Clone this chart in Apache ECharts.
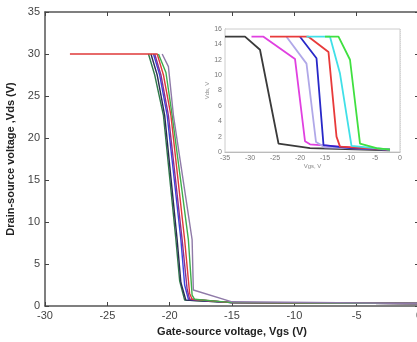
<!DOCTYPE html>
<html><head><meta charset="utf-8">
<script src="https://cdn.jsdelivr.net/npm/echarts@6/dist/echarts.min.js"></script>
<style>html,body{margin:0;padding:0;background:#fff}#c{width:417px;height:342px}</style>
</head><body><div id="c"></div>
<script>
// Main chart: Vgs (V) vs Vds (V)
const mainXTicks = [-30,-25,-20,-15,-10,-5,0];
const mainYTicks = [0,5,10,15,20,25,30,35];
const mainNames = ['s1','s2','s3','s4','s5','s6','s7'];
const mainColors = ['#2f7a4a','#2b2b55','#3a46e0','#8a2f8f','#e03a3a','#3fae4a','#8f7aa8'];
const s1 = [[-21.7,30],[-21.2,27.5],[-20.5,22.7],[-19.5,7.9],[-19.2,3.0],[-18.8,0.7],[-15,0.4],[0,0.3]];
const s2 = [[-21.5,30],[-21.0,27.5],[-20.4,22.7],[-19.4,7.9],[-19.1,2.8],[-18.7,0.7],[-15,0.4],[0,0.3]];
const s3 = [[-21.3,30],[-20.8,27.5],[-20.2,22.7],[-19.1,7.9],[-18.8,2.5],[-18.5,0.8],[-15,0.4],[0,0.3]];
const s4 = [[-21.2,30],[-20.7,27.5],[-20.1,22.7],[-19.0,7.9],[-18.6,2.0],[-18.4,0.8],[-15,0.4],[0,0.3]];
const s5 = [[-28,30],[-21.0,30],[-20.5,27.5],[-19.9,22.7],[-18.8,7.9],[-18.4,1.5],[-18.2,0.8],[-15,0.4],[0,0.3]];
const s6 = [[-20.9,30],[-20.3,27.8],[-19.8,22.7],[-18.5,7.9],[-18.2,1.3],[-18.0,0.8],[-15,0.4],[0,0.3]];
const s7 = [[-20.6,30],[-20.1,28.5],[-19.7,22.7],[-18.2,7.9],[-18.1,1.9],[-15,0.5],[0,0.3]];
const mainData = [s1,s2,s3,s4,s5,s6,s7];

// Inset chart
const insetXTicks = [-35,-30,-25,-20,-15,-10,-5,0];
const insetYTicks = [0,2,4,6,8,10,12,14,16];
const insetColors = ['#3a3a3a','#e040e0','#b0a8e8','#2828c8','#e83a3a','#40e0e8','#40e040'];
const i1 = [[-35,15],[-31,15],[-28,13.3],[-24.3,1.1],[-18,0.5],[-2,0.2]];
const i2 = [[-29.7,15],[-27.3,15],[-21,12.1],[-19,1.4],[-18,1.0],[-10,0.6],[-2,0.3]];
const i3 = [[-22.7,15],[-18.7,11.5],[-16.8,1.3],[-15,0.6],[-2,0.3]];
const i4 = [[-20,15],[-16.7,12.2],[-15.3,0.9],[-10,0.5],[-2,0.3]];
const i5 = [[-26,15],[-18.3,15],[-14.3,13],[-12.7,2],[-12,0.7],[-2,0.3]];
const i6 = [[-18.7,15],[-14,15],[-12,10.2],[-10,2],[-9.7,0.8],[-2,0.3]];
const i7 = [[-15,15],[-12.3,15],[-10,12],[-8,1.1],[-4.7,0.5],[-2,0.3]];
const insetData = [i1,i2,i3,i4,i5,i6,i7];

const chart = echarts.init(document.getElementById('c'));
const lblMain = {color:'#444', fontSize:11, fontFamily:'Liberation Sans, Arial'};
const lblInset = {color:'#777', fontSize:7, fontFamily:'Liberation Sans, Arial'};
const series = [];
mainData.forEach((d,k)=>series.push({type:'line', xAxisIndex:0, yAxisIndex:0, data:d, symbol:'none',
  lineStyle:{width:1.4, color:mainColors[k]}, z:3, animation:false}));
insetData.forEach((d,k)=>series.push({type:'line', xAxisIndex:2, yAxisIndex:2, data:d, symbol:'none',
  lineStyle:{width:1.8, color:insetColors[k]}, z:5, animation:false}));

chart.setOption({
  animation:false,
  grid:[
    {left:45, top:12, width:374, height:294, show:false, containLabel:false, outerBoundsMode:'none'},
    {left:225, top:29, width:175, height:123, show:true, backgroundColor:'#fff', borderColor:'#ccc', borderWidth:1, z:4, containLabel:false, outerBoundsMode:'none'}
  ],
  xAxis:[
    {type:'value', gridIndex:0, min:-30, max:0, interval:5, position:'bottom',
     name:'Gate-source voltage, Vgs (V)', nameLocation:'middle', nameGap:20,
     nameTextStyle:{fontWeight:'bold', fontSize:11, color:'#222', fontFamily:'Liberation Sans, Arial'},
     axisLine:{show:true, onZero:false, lineStyle:{color:'#555', width:1.5}},
     axisTick:{show:true, inside:true, length:4, lineStyle:{color:'#444'}},
     axisLabel:Object.assign({margin:4, formatter:v=>mainXTicks.includes(v)?String(v):''}, lblMain),
     splitLine:{show:false}},
    {type:'value', gridIndex:0, min:-30, max:0, interval:5, position:'top',
     axisLine:{show:true, onZero:false, lineStyle:{color:'#555', width:1.5}},
     axisTick:{show:true, inside:true, length:4, lineStyle:{color:'#444'}},
     axisLabel:{show:false}, splitLine:{show:false}},
    {type:'value', gridIndex:1, min:-35, max:0, interval:5, position:'bottom',
     name:'Vgs, V', nameLocation:'middle', nameGap:9,
     nameTextStyle:{fontSize:6, color:'#888'},
     axisLine:{show:true, onZero:false, lineStyle:{color:'#aaa'}},
     axisTick:{show:false},
     axisLabel:Object.assign({margin:3, formatter:v=>insetXTicks.includes(v)?String(v):''}, lblInset),
     splitLine:{show:true, lineStyle:{color:'#ddd', type:'dotted'}}}
  ],
  yAxis:[
    {type:'value', gridIndex:0, min:0, max:35, interval:5, position:'left',
     name:'Drain-source voltage ,Vds (V)', nameLocation:'middle', nameGap:22,
     nameTextStyle:{fontWeight:'bold', fontSize:11, color:'#222', fontFamily:'Liberation Sans, Arial'},
     axisLine:{show:true, onZero:false, lineStyle:{color:'#555', width:1.5}},
     axisTick:{show:true, inside:true, length:4, lineStyle:{color:'#444'}},
     axisLabel:Object.assign({margin:5, formatter:v=>mainYTicks.includes(v)?String(v):''}, lblMain),
     splitLine:{show:false}},
    {type:'value', gridIndex:0, min:0, max:35, interval:5, position:'right',
     axisLine:{show:true, onZero:false, lineStyle:{color:'#555', width:1.5}},
     axisTick:{show:true, inside:true, length:4, lineStyle:{color:'#444'}},
     axisLabel:{show:false}, splitLine:{show:false}},
    {type:'value', gridIndex:1, min:0, max:16, interval:2, position:'left',
     name:'Vds, V', nameLocation:'middle', nameGap:10,
     nameTextStyle:{fontSize:6, color:'#888'},
     axisLine:{show:true, onZero:false, lineStyle:{color:'#aaa'}},
     axisTick:{show:false},
     axisLabel:Object.assign({margin:3, formatter:v=>insetYTicks.includes(v)?String(v):''}, lblInset),
     splitLine:{show:true, lineStyle:{color:'#ddd', type:'dotted'}}}
  ],
  series: series
});
</script></body></html>
